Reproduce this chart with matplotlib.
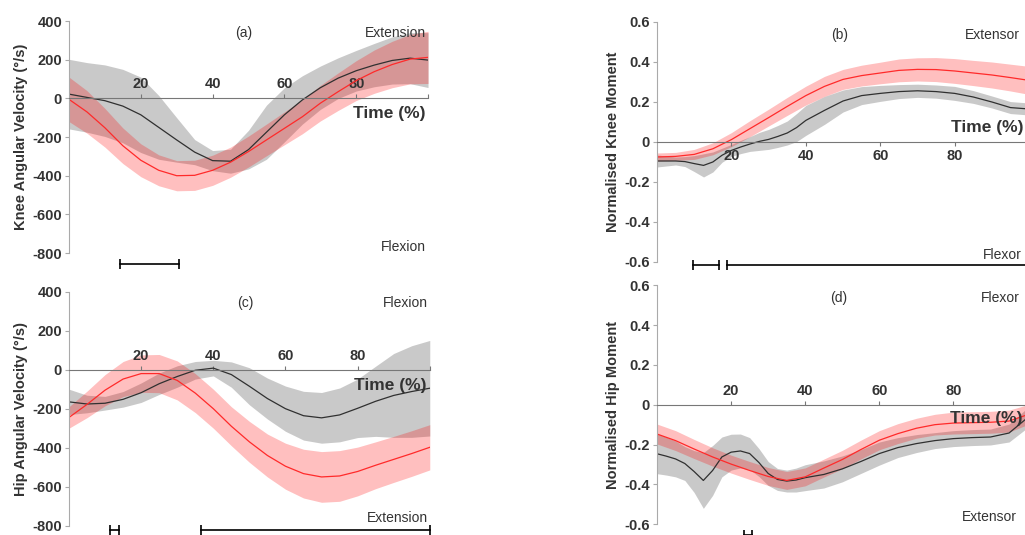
import matplotlib.pyplot as plt

plt.rcParams['font.family'] = ['Liberation Sans', 'DejaVu Sans']

# time axis (% of movement)
pct = [0, 5, 10, 15, 20, 25, 30, 35, 40, 45, 50, 55, 60, 65, 70, 75, 80, 85, 90, 95, 100]
pct_fine = [0, 2.5, 5, 7.5, 10, 12.5, 15, 17.5, 20, 22.5, 25, 27.5, 30, 32.5, 35, 37.5, 40,
            45, 50, 55, 60, 65, 70, 75, 80, 85, 90, 95, 100]

# (a) knee angular velocity
knee_vel_grey = [22, 5, -12, -40, -85, -150, -215, -278, -322, -325, -265, -175, -85, -8,
                 55, 105, 143, 172, 196, 208, 198]
knee_vel_grey_sd = [180, 180, 185, 190, 195, 165, 115, 65, 52, 62, 100, 140, 140, 125,
                    112, 105, 105, 112, 122, 132, 142]
knee_vel_red = [-5, -70, -152, -245, -320, -372, -400, -398, -372, -330, -275, -215, -155,
                -95, -25, 35, 92, 138, 175, 203, 212]
knee_vel_red_sd = [115, 110, 100, 92, 85, 80, 78, 78, 78, 78, 80, 82, 85, 88, 92, 97, 103,
                   112, 120, 128, 135]

# (b) normalised knee moment
knee_mom_grey = [-0.095, -0.095, -0.095, -0.098, -0.108, -0.117, -0.100, -0.066, -0.042,
                 -0.025, -0.010, 0.003, 0.013, 0.028, 0.045, 0.072, 0.108, 0.158, 0.205,
                 0.232, 0.243, 0.252, 0.256, 0.252, 0.243, 0.225, 0.200, 0.172, 0.165]
knee_mom_grey_sd = [0.030, 0.025, 0.020, 0.025, 0.040, 0.058, 0.050, 0.035, 0.030, 0.033,
                    0.037, 0.045, 0.050, 0.055, 0.060, 0.070, 0.075, 0.070, 0.055, 0.045,
                    0.040, 0.035, 0.033, 0.033, 0.035, 0.032, 0.030, 0.030, 0.030]
knee_mom_red = [-0.075, -0.072, -0.062, -0.034, 0.012, 0.067, 0.122, 0.178, 0.232, 0.278,
                0.313, 0.332, 0.345, 0.358, 0.363, 0.362, 0.355, 0.345, 0.335, 0.322, 0.308]
knee_mom_red_sd = [0.020, 0.020, 0.025, 0.030, 0.035, 0.040, 0.042, 0.045, 0.047, 0.050,
                   0.050, 0.052, 0.054, 0.057, 0.058, 0.060, 0.062, 0.063, 0.065, 0.067, 0.070]

# (c) hip angular velocity
hip_vel_grey = [-165, -176, -172, -152, -118, -72, -35, -3, 8, -25, -85, -148, -200, -236,
                -247, -232, -198, -162, -132, -112, -95]
hip_vel_grey_sd = [65, 45, 35, 40, 50, 55, 55, 45, 40, 65, 95, 105, 116, 125, 130, 138,
                   150, 180, 215, 235, 245]
hip_vel_red = [-245, -178, -105, -48, -20, -20, -55, -120, -200, -290, -370, -440, -495,
               -533, -550, -545, -522, -490, -460, -430, -398]
hip_vel_red_sd = [55, 68, 80, 90, 96, 98, 100, 100, 100, 100, 105, 110, 118, 125, 130, 130,
                  125, 120, 118, 117, 116]

# (d) normalised hip moment
hip_mom_grey = [-0.246, -0.258, -0.272, -0.295, -0.335, -0.380, -0.330, -0.262, -0.238,
                -0.232, -0.245, -0.290, -0.345, -0.375, -0.383, -0.378, -0.366, -0.350,
                -0.322, -0.285, -0.245, -0.215, -0.195, -0.180, -0.170, -0.165, -0.162,
                -0.142, -0.065]
hip_mom_grey_sd = [0.100, 0.095, 0.090, 0.085, 0.105, 0.140, 0.125, 0.100, 0.090, 0.085,
                   0.080, 0.070, 0.060, 0.055, 0.055, 0.060, 0.065, 0.068, 0.065, 0.060,
                   0.058, 0.050, 0.045, 0.040, 0.040, 0.040, 0.040, 0.045, 0.050]
hip_mom_red = [-0.147, -0.180, -0.222, -0.262, -0.298, -0.330, -0.360, -0.380, -0.362,
               -0.318, -0.275, -0.225, -0.178, -0.145, -0.118, -0.100, -0.092, -0.090,
               -0.088, -0.082, -0.050]
hip_mom_red_sd = [0.050, 0.050, 0.048, 0.046, 0.045, 0.045, 0.045, 0.045, 0.045, 0.045,
                  0.046, 0.047, 0.048, 0.050, 0.050, 0.052, 0.055, 0.055, 0.055, 0.055, 0.050]

# significance bars (start, end) in % time
bars_a = [(14.2, 30.6)]
bars_b = [(9.6, 16.7), (18.9, 100)]
bars_c = [(11.4, 13.9), (36.6, 100)]
bars_d = [(23.4, 25.5)]

vel_ticks = [-800, -600, -400, -200, 0, 200, 400]
vel_labels = ['-800', '-600', '-400', '-200', '0', '200', '400']
mom_ticks = [-0.6, -0.4, -0.2, 0, 0.2, 0.4, 0.6]
mom_labels = ['-0.6', '-0.4', '-0.2', '0', '0.2', '0.4', '0.6']

TXT = '#333333'


def panel(ax, xg, g, gsd, r, rsd, ylim, yticks, ylabels, ylabel, xlab_side='top'):
    ax.fill_between(xg, [m - s for m, s in zip(g, gsd)], [m + s for m, s in zip(g, gsd)],
                    color='#808080', alpha=0.42, lw=0)
    ax.plot(xg, g, color='#303030', lw=0.9)
    ax.fill_between(pct, [m - s for m, s in zip(r, rsd)], [m + s for m, s in zip(r, rsd)],
                    color='#ff0000', alpha=0.25, lw=0)
    ax.plot(pct, r, color='#ff2a2a', lw=0.9)
    ax.set_xlim(0, 100)
    ax.set_ylim(*ylim)
    other = 'bottom' if xlab_side == 'top' else 'top'
    ax.spines['right'].set_visible(False)
    ax.spines[other].set_visible(False)
    ax.spines[xlab_side].set_position(('data', 0))
    ax.spines[xlab_side].set_color('#777777')
    ax.spines['left'].set_color('#aaaaaa')
    ax.xaxis.set_ticks_position(xlab_side)
    ax.set_xticks([20, 40, 60, 80, 100], ['20', '40', '60', '80', ''],
                  fontweight='bold', fontsize=10.5, color=TXT)
    ax.set_yticks(yticks, ylabels, fontweight='bold', fontsize=10.5, color=TXT)
    ax.tick_params(axis='x', length=3, width=0.8, color='#777777', pad=2)
    ax.tick_params(axis='y', length=3, width=0.8, color='#aaaaaa', pad=2)
    ax.set_ylabel(ylabel, fontweight='bold', fontsize=10.5, color=TXT, labelpad=3)
    ax.patch.set_alpha(0)


def sig_bars(ax, bars, y):
    for x0, x1 in bars:
        ax.plot([x0, x1], [y, y], color='black', lw=1.2, marker='|', ms=7, mew=1.2,
                clip_on=False)


fig = plt.figure(figsize=(10.25, 5.35), dpi=100)

ax_a = fig.add_axes([0.0673, 0.527, 0.3503, 0.4337])
panel(ax_a, pct, knee_vel_grey, knee_vel_grey_sd, knee_vel_red, knee_vel_red_sd,
      (-800, 400), vel_ticks, vel_labels, 'Knee Angular Velocity (°/s)')
ax_a.text(48.7, 338, '(a)', ha='center', va='center', fontsize=10, color=TXT)
ax_a.text(99.5, 338, 'Extension', ha='right', va='center', fontsize=10, color=TXT)
ax_a.text(99.5, -770, 'Flexion', ha='right', va='center', fontsize=10, color=TXT)
ax_a.text(99.3, -78, 'Time (%)', ha='right', va='center', fontsize=12.5,
          fontweight='bold', color=TXT)
sig_bars(ax_a, bars_a, -858)

ax_b = fig.add_axes([0.641, 0.5103, 0.363, 0.4486])
panel(ax_b, pct_fine, knee_mom_grey, knee_mom_grey_sd, knee_mom_red, knee_mom_red_sd,
      (-0.6, 0.6), mom_ticks, mom_labels, 'Normalised Knee Moment', xlab_side='bottom')
ax_b.text(49, 0.535, '(b)', ha='center', va='center', fontsize=10, color=TXT)
ax_b.text(82.8, 0.535, 'Extensor', ha='left', va='center', fontsize=10, color=TXT)
ax_b.text(87.6, -0.565, 'Flexor', ha='left', va='center', fontsize=10, color=TXT)
ax_b.text(98.6, 0.07, 'Time (%)', ha='right', va='center', fontsize=12.5,
          fontweight='bold', color=TXT)
sig_bars(ax_b, bars_b, -0.615)

ax_c = fig.add_axes([0.0673, 0.0174, 0.352, 0.4374])
panel(ax_c, pct, hip_vel_grey, hip_vel_grey_sd, hip_vel_red, hip_vel_red_sd,
      (-800, 400), vel_ticks, vel_labels, 'Hip Angular Velocity (°/s)')
ax_c.text(49, 342, '(c)', ha='center', va='center', fontsize=10, color=TXT)
ax_c.text(99.5, 342, 'Flexion', ha='right', va='center', fontsize=10, color=TXT)
ax_c.text(99.5, -762, 'Extension', ha='right', va='center', fontsize=10, color=TXT)
ax_c.text(99.0, -80, 'Time (%)', ha='right', va='center', fontsize=12.5,
          fontweight='bold', color=TXT)
sig_bars(ax_c, bars_c, -822)

ax_d = fig.add_axes([0.641, 0.020, 0.3615, 0.447])
panel(ax_d, pct_fine, hip_mom_grey, hip_mom_grey_sd, hip_mom_red, hip_mom_red_sd,
      (-0.6, 0.6), mom_ticks, mom_labels, 'Normalised Hip Moment')
ax_d.text(49, 0.535, '(d)', ha='center', va='center', fontsize=10, color=TXT)
ax_d.text(87.5, 0.535, 'Flexor', ha='left', va='center', fontsize=10, color=TXT)
ax_d.text(82.3, -0.565, 'Extensor', ha='left', va='center', fontsize=10, color=TXT)
ax_d.text(98.6, -0.068, 'Time (%)', ha='right', va='center', fontsize=12.5,
          fontweight='bold', color=TXT)
sig_bars(ax_d, bars_d, -0.655)

fig.savefig('out.png', dpi=100)
